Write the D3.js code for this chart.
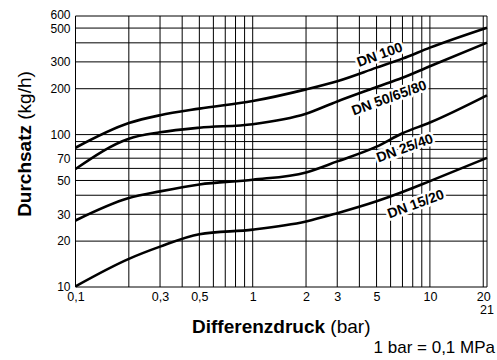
<!DOCTYPE html>
<html>
<head>
<meta charset="utf-8">
<script src="https://cdn.jsdelivr.net/npm/d3@7/dist/d3.min.js"></script>
<style>
  html, body { margin: 0; padding: 0; background: #fff; }
  svg { display: block; font-family: "Liberation Sans", Arial, Helvetica, sans-serif; }
</style>
</head>
<body>
<div id="chart"></div>
<script>
// Differenzdruck in bar
const pressure = [0.1, 0.2, 0.3, 0.5, 1, 2, 3, 5, 7, 10, 21];
// Durchsatz in kg/h per nominal size
const dn100 = [82, 119, 134, 148, 166, 198, 224, 275, 315, 372, 503];
const dn50 = [59.5, 94, 103.5, 111, 117, 137, 165, 205, 236, 281, 401];
const dn25 = [27.3, 38.3, 42.4, 47.1, 50.6, 56.5, 66.7, 83.4, 102, 120, 181];
const dn15 = [10.1, 15.3, 18.4, 22.2, 23.8, 26.9, 30.5, 36.5, 42, 49.5, 70.3];

const seriesNames = ['DN 100', 'DN 50/65/80', 'DN 25/40', 'DN 15/20'];
const labelBar = [5.2, 5.87, 7.2, 8.3];
const labelKg = [336, 175, 82, 35.2];

const xGrid = [0.1, 0.2, 0.3, 0.4, 0.5, 0.6, 0.7, 0.8, 0.9, 1, 2, 3, 4, 5, 6, 7, 8, 9, 10, 20, 21];
const yGrid = [10, 20, 30, 40, 50, 60, 70, 80, 90, 100, 200, 300, 400, 500, 600];
const xTicks = [0.1, 0.3, 0.5, 1, 2, 3, 5, 10, 20];
const yTicks = [10, 20, 30, 50, 70, 100, 200, 300, 500, 600];

const width = 497, height = 360;
const margin = { top: 16, right: 10, bottom: 73, left: 75.5 };

const svg = d3.select('#chart')
  .append('svg')
  .attr('width', width)
  .attr('height', height);

const x = d3.scaleLog()
  .domain([0.1, 21])
  .range([margin.left, width - margin.right]);

const y = d3.scaleLog()
  .domain([10, 600])
  .range([height - margin.bottom, margin.top]);

// Grid
svg.append('g')
  .selectAll('line')
  .data(xGrid)
  .enter().append('line')
  .attr('x1', d => x(d)).attr('x2', d => x(d))
  .attr('y1', y(10)).attr('y2', y(600))
  .attr('stroke', '#000')
  .attr('stroke-width', 1);

svg.append('g')
  .selectAll('line')
  .data(yGrid)
  .enter().append('line')
  .attr('x1', x(0.1)).attr('x2', x(21))
  .attr('y1', d => y(d)).attr('y2', d => y(d))
  .attr('stroke', '#000')
  .attr('stroke-width', 1);

// Tick labels
const fmt = d => String(d).replace('.', ',');

const xAxis = svg.append('g')
  .attr('transform', `translate(0,${y(10)})`)
  .call(d3.axisBottom(x).tickValues(xTicks).tickSize(0).tickPadding(5).tickFormat(fmt));
xAxis.select('.domain').remove();
xAxis.selectAll('text').style('font-size', '12.5px').style('font-family', 'inherit').attr('fill', '#000');

svg.append('text')
  .attr('x', x(21))
  .attr('y', y(10) + 27)
  .attr('text-anchor', 'middle')
  .style('font-size', '12.5px')
  .text('21');

const yAxis = svg.append('g')
  .attr('transform', `translate(${x(0.1)},0)`)
  .call(d3.axisLeft(y).tickValues(yTicks).tickSize(0).tickPadding(5).tickFormat(fmt));
yAxis.select('.domain').remove();
yAxis.selectAll('text')
  .style('font-size', '12px')
  .style('font-family', 'inherit')
  .attr('fill', '#000')
  .attr('dy', d => d === 600 ? '0.2em' : d === 500 ? '0.4em' : '0.32em');

// Curve labels (white knock-out behind)
const series = [dn100, dn50, dn25, dn15];
svg.append('g')
  .selectAll('text')
  .data(seriesNames)
  .enter().append('text')
  .attr('transform', (d, i) => `translate(${x(labelBar[i])},${y(labelKg[i])}) rotate(-20)`)
  .attr('text-anchor', 'middle')
  .attr('dy', '0.35em')
  .style('font-size', '14px')
  .style('font-weight', 'bold')
  .style('paint-order', 'stroke')
  .attr('stroke', '#fff')
  .attr('stroke-width', 5)
  .attr('stroke-linejoin', 'round')
  .attr('fill', '#000')
  .text(d => d);

// Curves
const line = d3.line()
  .x((d, i) => x(pressure[i]))
  .y(d => y(d))
  .curve(d3.curveMonotoneX);

svg.append('g')
  .selectAll('path')
  .data(series)
  .enter().append('path')
  .attr('fill', 'none')
  .attr('stroke', '#000')
  .attr('stroke-width', 2.6)
  .attr('d', line);

// Axis titles
const xTitle = svg.append('text')
  .attr('x', (x(0.1) + x(21)) / 2)
  .attr('y', 333)
  .attr('text-anchor', 'middle')
  .style('font-size', '19px');
xTitle.append('tspan').style('font-weight', 'bold').text('Differenzdruck');
xTitle.append('tspan').text(' (bar)');

const yTitle = svg.append('text')
  .attr('transform', 'translate(31,144) rotate(-90)')
  .attr('text-anchor', 'middle')
  .style('font-size', '19px');
yTitle.append('tspan').style('font-weight', 'bold').text('Durchsatz');
yTitle.append('tspan').text(' (kg/h)');

svg.append('text')
  .attr('x', 495)
  .attr('y', 353)
  .attr('text-anchor', 'end')
  .style('font-size', '17px')
  .text('1 bar = 0,1 MPa');
</script>
</body>
</html>
